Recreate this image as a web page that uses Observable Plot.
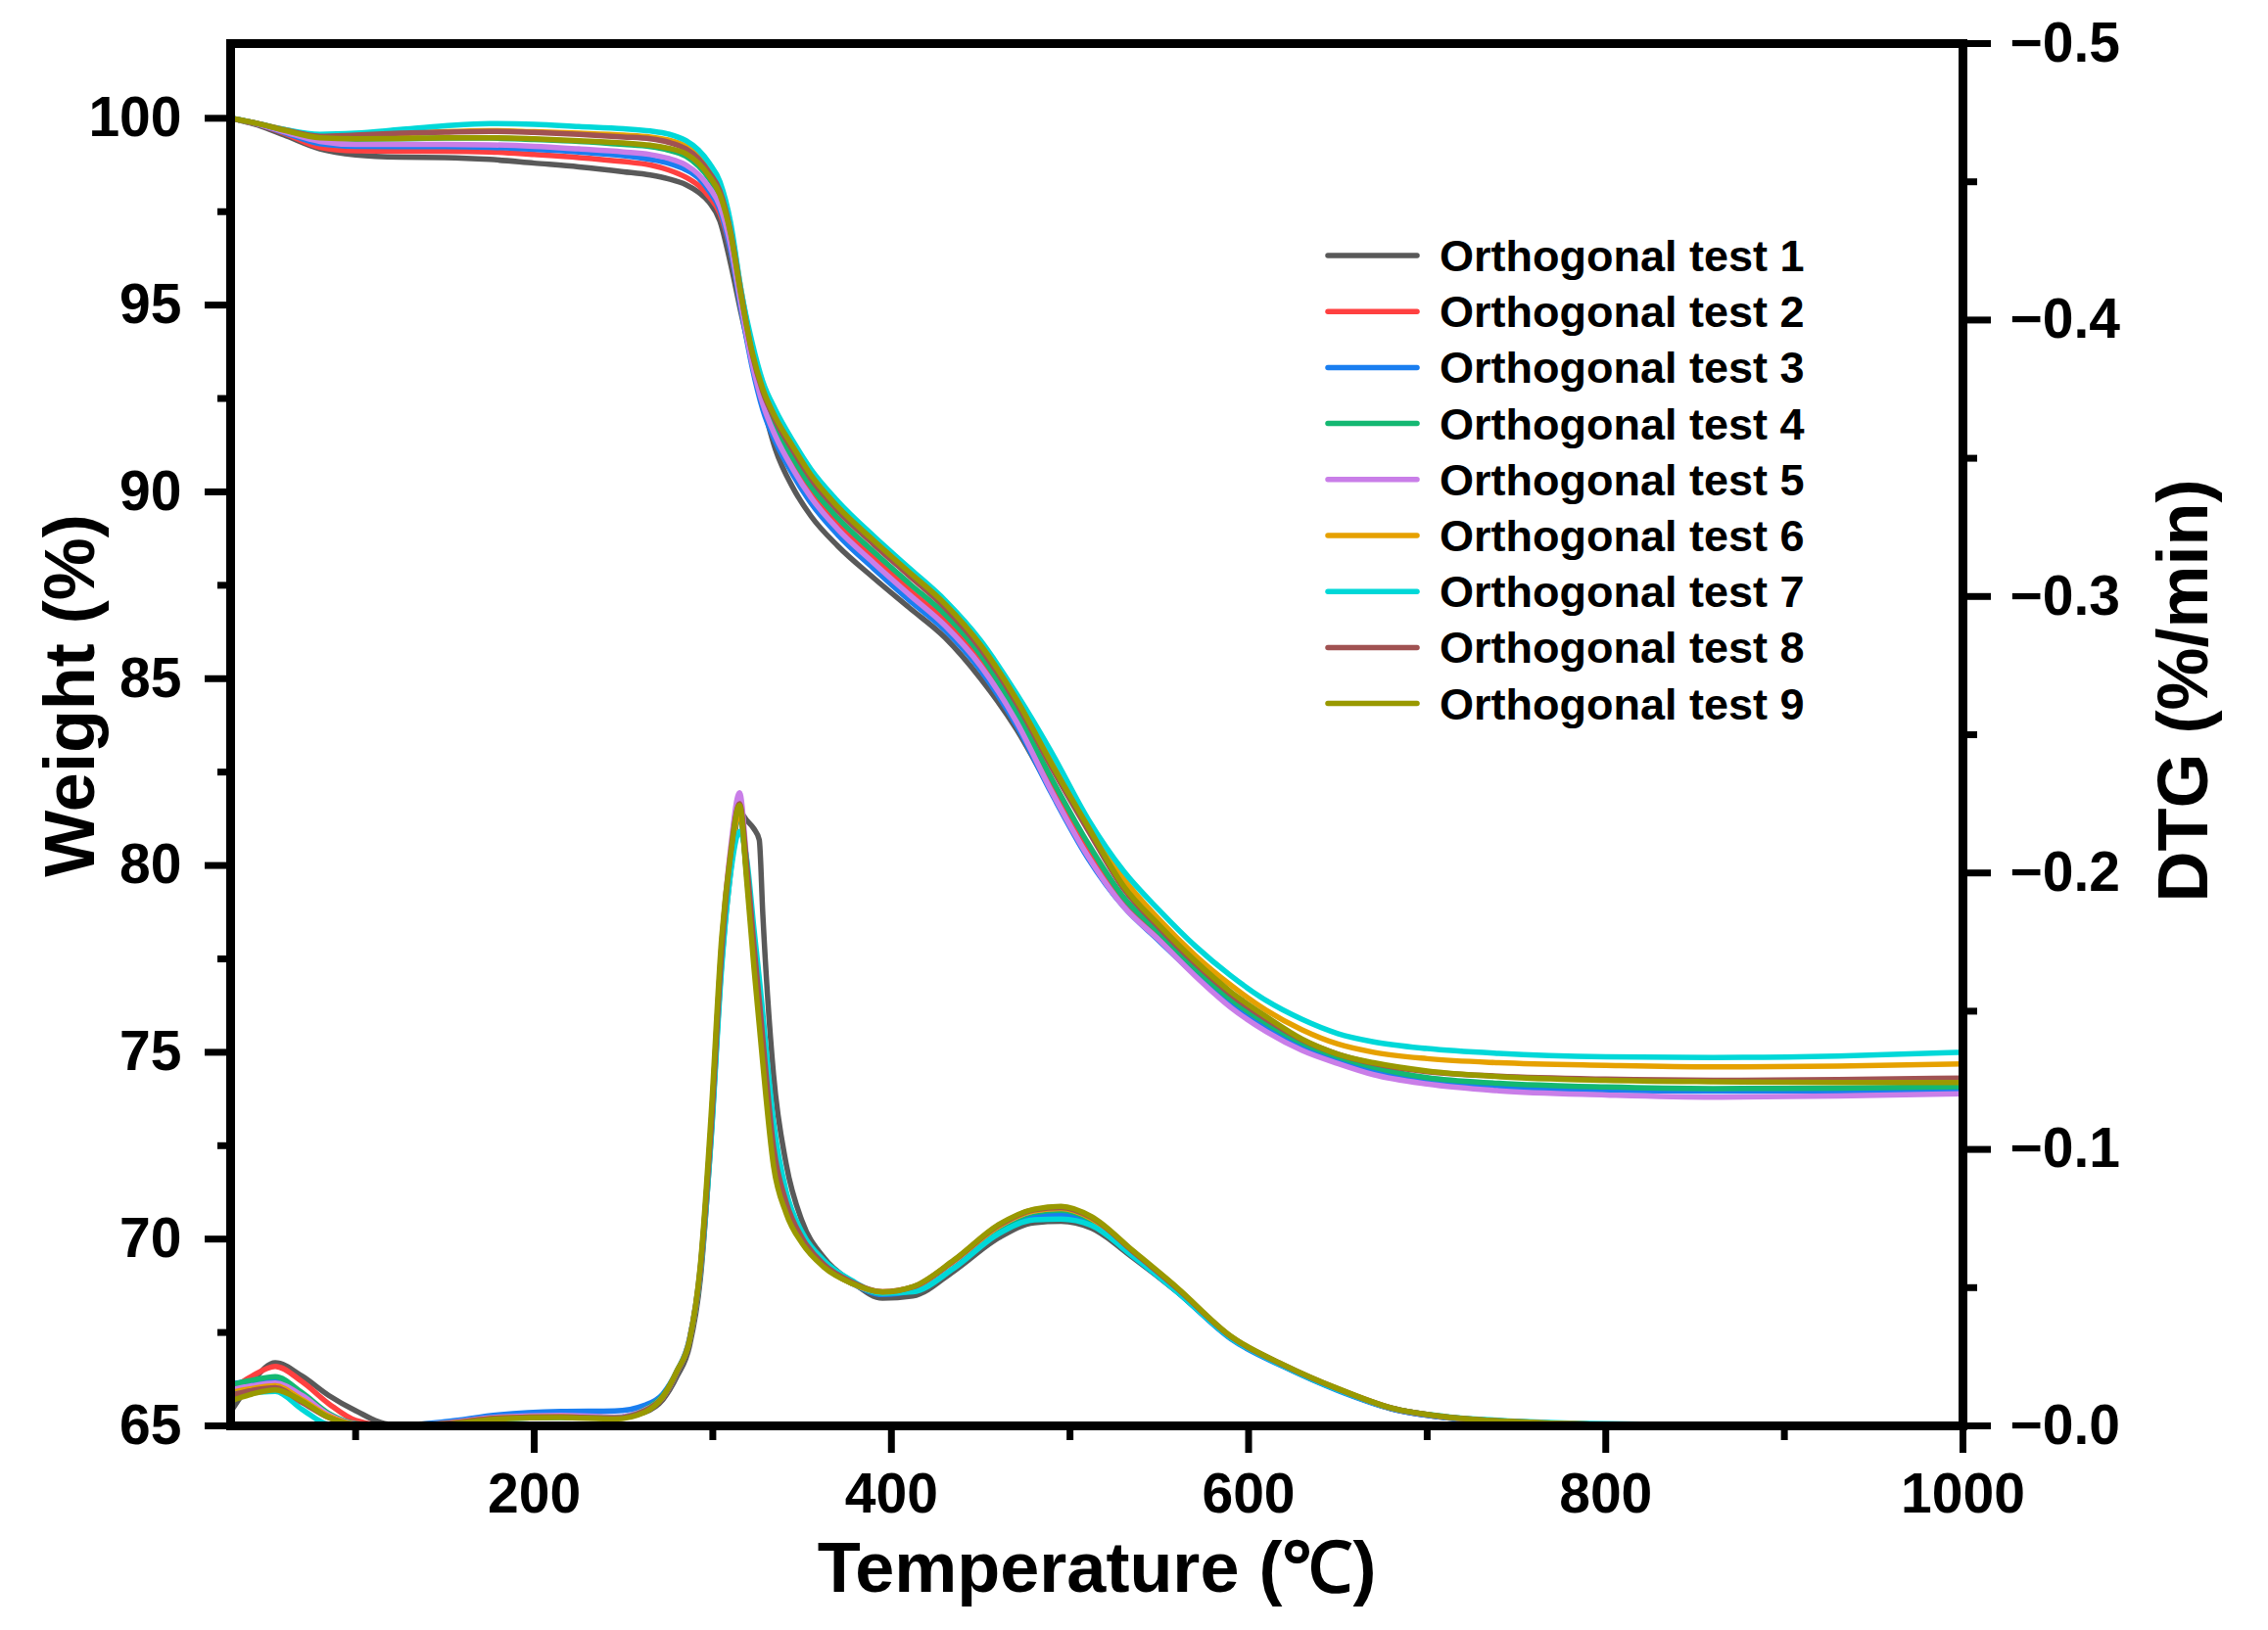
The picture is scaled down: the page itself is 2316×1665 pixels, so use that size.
<!DOCTYPE html>
<html><head><meta charset="utf-8">
<script src="https://cdn.jsdelivr.net/npm/d3@7"></script>
<script src="https://cdn.jsdelivr.net/npm/@observablehq/plot@0.6"></script>
<style>
html,body{margin:0;padding:0;background:#fff;}
#chart{width:2316px;height:1665px;}
</style></head><body><div id="chart"></div>
<script>
// ---------- data ----------
const names = ["Orthogonal test 1","Orthogonal test 2","Orthogonal test 3","Orthogonal test 4","Orthogonal test 5","Orthogonal test 6","Orthogonal test 7","Orthogonal test 8","Orthogonal test 9"];
const colors = ["#595959","#ff4040","#1a7ef0","#14b872","#c97ee8","#e6a100","#00d8d8","#a05252","#999900"];

// TG (weight %) vs temperature (°C)
const tgTemp = [30,45,60,80,100,125,150,175,200,225,250,265,275,285,292,298,304,310,316,322,328,335,345,355,370,390,410,430,450,470,490,510,530,550,570,590,610,630,650,670,700,740,800,860,930,1000];
const tg1 = [100,99.82,99.55,99.18,99.02,98.96,98.95,98.9,98.8,98.7,98.57,98.48,98.38,98.22,98.02,97.75,97.25,96.1,94.75,93.5,92.35,91.15,90.1,89.35,88.55,87.7,86.9,86.1,85.0,83.65,81.95,80.25,78.95,78.0,77.1,76.3,75.65,75.15,74.8,74.52,74.25,74.1,74.02,73.99,73.98,73.99];
const tg2 = [100,99.84,99.6,99.22,99.13,99.12,99.12,99.1,99.03,98.95,98.84,98.75,98.62,98.42,98.2,97.9,97.45,96.45,94.9,93.5,92.45,91.6,90.75,90.0,89.15,88.25,87.38,86.55,85.47,83.95,82.1,80.45,79.05,78.12,77.17,76.33,75.68,75.16,74.8,74.52,74.25,74.1,74.02,73.98,73.98,74.0];
const tg3 = [100,99.85,99.62,99.32,99.25,99.24,99.24,99.22,99.17,99.1,99.0,98.9,98.8,98.62,98.4,98.05,97.55,96.45,94.85,93.35,92.2,91.35,90.45,89.7,88.85,87.95,87.1,86.3,85.22,83.75,81.9,80.2,78.9,77.98,77.08,76.26,75.62,75.12,74.76,74.48,74.22,74.07,73.99,73.96,73.97,73.99];
const tg4 = [100,99.86,99.68,99.47,99.44,99.45,99.47,99.47,99.43,99.38,99.3,99.24,99.15,98.98,98.72,98.38,97.88,96.8,95.1,93.55,92.5,91.72,90.9,90.15,89.3,88.4,87.55,86.72,85.64,84.1,82.3,80.6,79.15,78.2,77.25,76.42,75.78,75.25,74.88,74.6,74.32,74.17,74.07,74.03,74.04,74.08];
const tg5 = [100,99.85,99.64,99.38,99.3,99.3,99.3,99.29,99.25,99.18,99.1,99.03,98.93,98.75,98.5,98.15,97.65,96.6,94.95,93.45,92.35,91.5,90.6,89.85,89.0,88.1,87.25,86.42,85.34,83.85,81.95,80.25,78.9,78.0,77.05,76.2,75.55,75.05,74.7,74.4,74.15,73.97,73.86,73.8,73.83,73.89];
const tg6 = [100,99.86,99.7,99.52,99.53,99.58,99.64,99.67,99.64,99.6,99.55,99.5,99.42,99.25,99.0,98.65,98.15,97.05,95.35,93.85,92.85,92.1,91.28,90.52,89.68,88.76,87.9,87.04,85.96,84.52,82.85,81.15,79.65,78.55,77.6,76.8,76.12,75.6,75.22,75.0,74.83,74.72,74.65,74.61,74.63,74.69];
const tg7 = [100,99.86,99.7,99.57,99.6,99.7,99.8,99.86,99.84,99.78,99.72,99.66,99.58,99.4,99.15,98.8,98.3,97.2,95.35,94.0,92.95,92.2,91.35,90.6,89.75,88.82,87.96,87.1,86.02,84.6,83.0,81.25,79.85,78.8,77.85,77.05,76.38,75.88,75.5,75.28,75.1,74.97,74.88,74.86,74.9,75.0];
const tg8 = [100,99.86,99.69,99.52,99.55,99.6,99.63,99.65,99.62,99.57,99.5,99.45,99.36,99.18,98.92,98.55,98.05,96.95,95.25,93.7,92.68,91.92,91.1,90.35,89.5,88.6,87.75,86.9,85.8,84.35,82.6,80.95,79.38,78.33,77.38,76.55,75.88,75.33,74.95,74.7,74.48,74.36,74.28,74.25,74.27,74.31];
const tg9 = [100,99.86,99.68,99.48,99.45,99.46,99.48,99.48,99.45,99.4,99.34,99.28,99.2,99.05,98.8,98.45,97.95,96.9,95.2,93.75,92.75,92.0,91.2,90.45,89.6,88.7,87.85,87.0,85.9,84.45,82.7,81.05,79.45,78.4,77.45,76.62,75.95,75.35,74.95,74.72,74.5,74.35,74.25,74.21,74.19,74.19];

// DTG (%/min) vs temperature (°C)
const dtgTemp = [30,42,55,70,85,100,120,150,180,215,245,262,272,280,287,293,299,305,310,315,319,323,326,328,334,341,350,362,378,395,412,435,460,480,495,512,535,560,590,620,650,680,710,750,820,1000];
const dtg1 = [-0.005,-0.016,-0.0228,-0.018,-0.011,-0.0055,-0.0005,-0.001,-0.0035,-0.004,-0.003,-0.005,-0.0095,-0.018,-0.029,-0.053,-0.104,-0.168,-0.201,-0.222,-0.219,-0.216,-0.212,-0.185,-0.127,-0.095,-0.074,-0.061,-0.052,-0.0462,-0.047,-0.056,-0.068,-0.0735,-0.074,-0.0715,-0.061,-0.0485,-0.032,-0.0215,-0.013,-0.0062,-0.003,-0.0013,-0.0003,0];
const dtg2 = [-0.013,-0.018,-0.0215,-0.016,-0.008,-0.002,0,-0.0008,-0.003,-0.0035,-0.003,-0.0055,-0.0102,-0.0195,-0.031,-0.056,-0.108,-0.174,-0.208,-0.226,-0.2,-0.17,-0.15,-0.136,-0.1,-0.08,-0.068,-0.0585,-0.052,-0.048,-0.0495,-0.0585,-0.0712,-0.0768,-0.0775,-0.074,-0.062,-0.0488,-0.0318,-0.0215,-0.013,-0.0063,-0.0032,-0.0014,-0.0003,0];
const dtg3 = [-0.0152,-0.0162,-0.017,-0.011,-0.004,-0.0005,0,-0.0015,-0.004,-0.0052,-0.0054,-0.0075,-0.0115,-0.02,-0.0315,-0.056,-0.106,-0.171,-0.205,-0.222,-0.2,-0.172,-0.153,-0.139,-0.102,-0.081,-0.068,-0.0585,-0.0515,-0.0475,-0.049,-0.058,-0.0705,-0.0758,-0.0765,-0.0732,-0.0615,-0.0485,-0.0315,-0.0213,-0.0128,-0.0062,-0.003,-0.0013,-0.0003,0];
const dtg4 = [-0.0148,-0.0165,-0.0178,-0.012,-0.0045,-0.0008,0,-0.001,-0.003,-0.0035,-0.003,-0.006,-0.011,-0.0198,-0.0315,-0.057,-0.108,-0.173,-0.206,-0.221,-0.199,-0.17,-0.151,-0.137,-0.099,-0.079,-0.067,-0.058,-0.0515,-0.048,-0.0495,-0.059,-0.0715,-0.0772,-0.078,-0.0745,-0.0625,-0.049,-0.032,-0.0217,-0.0132,-0.0064,-0.0032,-0.0014,-0.0004,0];
const dtg5 = [-0.013,-0.0145,-0.0155,-0.011,-0.004,-0.0006,0,-0.001,-0.0032,-0.0038,-0.0032,-0.0058,-0.0105,-0.0195,-0.0315,-0.057,-0.108,-0.174,-0.209,-0.229,-0.204,-0.174,-0.154,-0.14,-0.1,-0.08,-0.067,-0.058,-0.0515,-0.0482,-0.05,-0.0595,-0.0722,-0.0778,-0.0788,-0.0752,-0.063,-0.0495,-0.0322,-0.0218,-0.0133,-0.0064,-0.0032,-0.0014,-0.0004,0];
const dtg6 = [-0.012,-0.0135,-0.0145,-0.0095,-0.0035,-0.0005,0,-0.0008,-0.0028,-0.0033,-0.0028,-0.0055,-0.0105,-0.0195,-0.031,-0.056,-0.106,-0.171,-0.205,-0.222,-0.2,-0.172,-0.152,-0.138,-0.1,-0.08,-0.067,-0.058,-0.0515,-0.0485,-0.0502,-0.0597,-0.0722,-0.0778,-0.0786,-0.075,-0.063,-0.0495,-0.0322,-0.0218,-0.0133,-0.0064,-0.0033,-0.0015,-0.0004,0];
const dtg7 = [-0.0115,-0.012,-0.0125,-0.006,-0.0005,0,0,-0.0005,-0.0025,-0.003,-0.0028,-0.0055,-0.0105,-0.0195,-0.031,-0.055,-0.103,-0.166,-0.2,-0.215,-0.205,-0.18,-0.162,-0.149,-0.11,-0.085,-0.07,-0.06,-0.0525,-0.048,-0.0485,-0.057,-0.0695,-0.0745,-0.0748,-0.0725,-0.0615,-0.0485,-0.0318,-0.0215,-0.013,-0.0064,-0.0034,-0.0017,-0.0006,0];
const dtg8 = [-0.011,-0.0128,-0.0138,-0.0085,-0.003,-0.0004,0,-0.0008,-0.0028,-0.0033,-0.0028,-0.0055,-0.0105,-0.0195,-0.031,-0.056,-0.107,-0.172,-0.207,-0.225,-0.203,-0.174,-0.154,-0.14,-0.101,-0.081,-0.068,-0.0585,-0.052,-0.0485,-0.0502,-0.0598,-0.0725,-0.0782,-0.079,-0.0754,-0.0632,-0.0497,-0.0323,-0.0219,-0.0134,-0.0065,-0.0033,-0.0015,-0.0004,0];
const dtg9 = [-0.009,-0.0115,-0.013,-0.009,-0.003,-0.0005,0,-0.0005,-0.0025,-0.003,-0.0025,-0.005,-0.0105,-0.02,-0.031,-0.058,-0.112,-0.177,-0.207,-0.2245,-0.197,-0.166,-0.145,-0.131,-0.094,-0.077,-0.066,-0.0575,-0.0515,-0.0484,-0.0503,-0.06,-0.0728,-0.0784,-0.0794,-0.0757,-0.0635,-0.05,-0.0325,-0.022,-0.0135,-0.0065,-0.0033,-0.0015,-0.0004,0];

// axis ticks
const xMajor = [200,400,600,800,1000];
const xMinor = [100,300,500,700,900];
const wMajor = [65,70,75,80,85,90,95,100];
const wMinor = [67.5,72.5,77.5,82.5,87.5,92.5,97.5];
const dtgMajor = [-0.5,-0.4,-0.3,-0.2,-0.1,0];
const dtgMajorLabels = ["\u22120.5","\u22120.4","\u22120.3","\u22120.2","\u22120.1","\u22120.0"];
const dtgMinor = [-0.45,-0.35,-0.25,-0.15,-0.05];

// ---------- build ----------
const W = 2316, H = 1665, mL = 235, mR = 312, mT = 44, mB = 209;
const wLo = 65, wHi = 102, dtgTop = -0.5;     // right axis: 0 at bottom, -0.5 at top
const toW = d => wLo + (d / dtgTop) * (wHi - wLo);

const tgSeries = [tg1,tg2,tg3,tg4,tg5,tg6,tg7,tg8,tg9];
const dtgSeries = [dtg1,dtg2,dtg3,dtg4,dtg5,dtg6,dtg7,dtg8,dtg9];
const tgRows = [], dtgRows = [];
tgSeries.forEach((vals, i) => vals.forEach((v, j) => tgRows.push({T: tgTemp[j], w: v, s: names[i]})));
dtgSeries.forEach((vals, i) => vals.forEach((v, j) => dtgRows.push({T: dtgTemp[j], w: toW(v), s: names[i]})));

const font = "'Liberation Sans', Arial, Helvetica, sans-serif";
const tickW = 7;

const plot = Plot.plot({
  width: W, height: H,
  marginLeft: mL, marginRight: mR, marginTop: mT, marginBottom: mB,
  style: {fontFamily: font, background: "white", color: "black", overflow: "visible"},
  x: {domain: [30, 1000]},
  y: {domain: [wLo, wHi]},
  color: {domain: names, range: colors},
  marks: [
    Plot.line(tgRows, {x: "T", y: "w", z: "s", stroke: "s", strokeWidth: 5.5, curve: "monotone-x"}),
    Plot.line(dtgRows, {x: "T", y: "w", z: "s", stroke: "s", strokeWidth: 5.5, curve: "monotone-x"}),
    Plot.axisX({ticks: xMinor, tickSize: 15, tickFormat: () => "", strokeWidth: tickW, label: null}),
    Plot.axisX({ticks: xMajor, tickSize: 28, tickPadding: 20, tickFormat: d => String(d), fontSize: 57, fontWeight: "bold", strokeWidth: tickW, label: null}),
    Plot.axisY({anchor: "left", ticks: wMinor, tickSize: 13, tickFormat: () => "", strokeWidth: tickW, label: null}),
    Plot.axisY({anchor: "left", ticks: wMajor, tickSize: 26, tickPadding: 24, tickFormat: d => String(d), fontSize: 57, fontWeight: "bold", strokeWidth: tickW, label: null}),
    Plot.axisY({anchor: "right", ticks: dtgMinor.map(toW), tickSize: 14, tickFormat: () => "", strokeWidth: tickW, label: null}),
    Plot.axisY({anchor: "right", ticks: dtgMajor.map(toW), tickSize: 28, tickPadding: 20, fontSize: 57, fontWeight: "bold", strokeWidth: tickW, label: null,
      tickFormat: d => dtgMajorLabels[dtgMajor.findIndex(v => Math.abs(toW(v) - d) < 1e-6)]}),
    Plot.text(["Temperature (\u2103)"], {frameAnchor: "bottom", dy: 146, textAnchor: "middle", lineAnchor: "middle", fontSize: 72, fontWeight: "bold"}),
    Plot.text(["Weight (%)"], {frameAnchor: "left", dx: -163, dy: -40, rotate: -90, textAnchor: "middle", lineAnchor: "middle", fontSize: 72, fontWeight: "bold"}),
    Plot.text(["DTG (%/min)"], {frameAnchor: "right", dx: 226, dy: -45, rotate: -90, textAnchor: "middle", lineAnchor: "middle", fontSize: 72, fontWeight: "bold"}),
    Plot.frame({strokeWidth: 9})
  ]
});

// legend
const svg = d3.select(plot);
const lg = svg.append("g").attr("font-family", font).attr("text-anchor", "start");
const legendY0 = 261, legendStep = 57.2;
names.forEach((n, i) => {
  const y = legendY0 + i * legendStep;
  lg.append("line").attr("x1", 1356).attr("x2", 1447).attr("y1", y).attr("y2", y)
    .attr("stroke", colors[i]).attr("stroke-width", 5.5).attr("stroke-linecap", "round");
  lg.append("text").attr("x", 1470).attr("y", y + 16).attr("font-size", 45).attr("font-weight", "bold")
    .attr("text-anchor", "start").attr("fill", "black").text(n);
});

document.getElementById("chart").appendChild(plot);
</script>
</body></html>
